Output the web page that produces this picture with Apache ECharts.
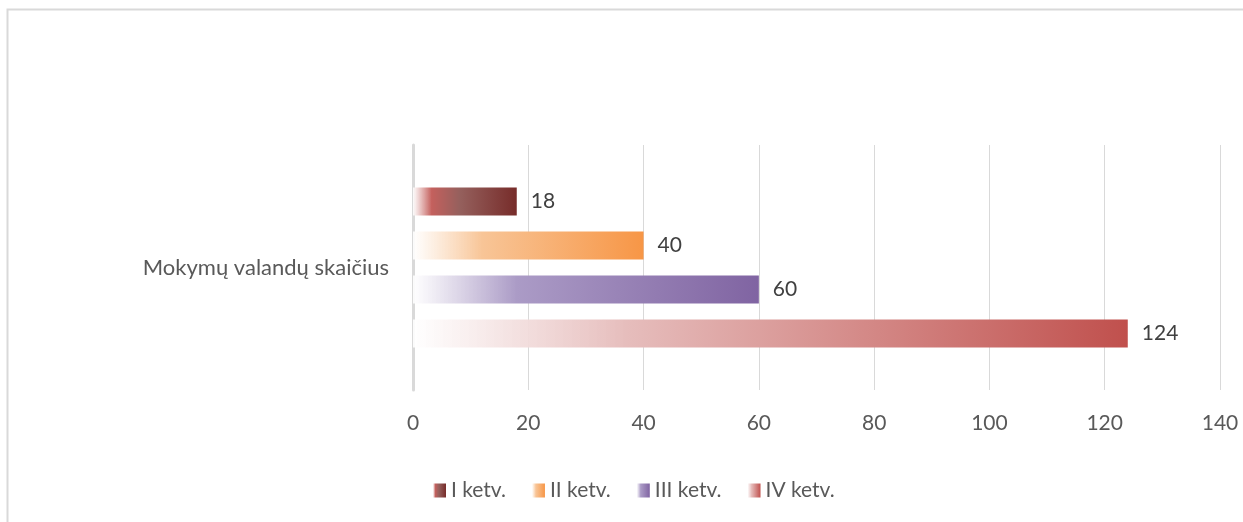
<!DOCTYPE html>
<html>
<head>
<meta charset="utf-8">
<script src="https://cdn.jsdelivr.net/npm/echarts@6/dist/echarts.min.js"></script>
<style>
  html, body { margin: 0; padding: 0; background: #fff; }
  #chart { width: 1243px; height: 522px; }
</style>
</head>
<body>
<div id="chart"></div>
<script>
// duomenys
var categories = ['Mokymų valandų skaičius'];
var seriesNames = ['I ketv.', 'II ketv.', 'III ketv.', 'IV ketv.'];
var seriesValues = [[18], [40], [60], [124]];
var xTicks = [0, 20, 40, 60, 80, 100, 120, 140];

// gradientai kiekvienai serijai (iš kairės balta -> spalva)
var gradStops = [
    [[0, 'rgba(255,255,255,0.9)'], [0.18, '#c4605d'], [0.45, '#95605d'], [1, '#772c2a']],
    [[0, 'rgba(255,255,255,0.9)'], [0.3, '#f8c597'], [1, '#f79646']],
    [[0, 'rgba(255,255,255,0.9)'], [0.3, '#ab9bc6'], [1, '#8064a2']],
    [[0, 'rgba(255,255,255,0.9)'], [0.3, '#e6bdbc'], [1, '#c0504d']]
];

function grad(stops) {
    return new echarts.graphic.LinearGradient(0, 0, 1, 0, stops.map(function (s) {
        return { offset: s[0], color: s[1] };
    }));
}

var FONT = 'Lato';
var myChart = echarts.init(document.getElementById('chart'));

var series = seriesNames.map(function (name, i) {
    return {
        name: name,
        type: 'bar',
        data: seriesValues[i],
        barWidth: 28,
        barGap: '57%',
        itemStyle: { color: grad(gradStops[i]) },
        label: {
            show: true,
            position: 'right',
            distance: 14,
            color: '#404040',
            fontSize: 21,
            fontFamily: FONT
        }
    };
});

var option = {
    animation: false,
    textStyle: { fontFamily: FONT },
    graphic: [{
        type: 'rect',
        shape: { x: 7.5, y: 9.5, width: 1300, height: 600 },
        style: { fill: 'none', stroke: '#d9d9d9', lineWidth: 2 },
        silent: true
    }],
    legend: {
        bottom: 16,
        left: 428,
        icon: 'rect',
        itemWidth: 13,
        itemHeight: 14,
        itemGap: 26,
        textStyle: { color: '#595959', fontSize: 21, fontFamily: FONT, padding: [0, 0, 0, 0] },
        data: seriesNames
    },
    grid: {
        left: 413,
        right: 23,
        top: 145,
        bottom: 132,
        containLabel: false
    },
    xAxis: {
        type: 'value',
        min: xTicks[0],
        max: xTicks[xTicks.length - 1],
        interval: 20,
        axisLine: { show: false },
        axisTick: { show: false },
        splitLine: { show: true, lineStyle: { color: '#d9d9d9', width: 1 } },
        axisLabel: { color: '#595959', fontSize: 21, margin: 23 }
    },
    yAxis: {
        type: 'category',
        inverse: true,
        data: categories,
        axisLine: { show: true, lineStyle: { color: '#d9d9d9', width: 3 } },
        axisTick: { show: false },
        axisLabel: { color: '#595959', fontSize: 22, margin: 24 }
    },
    series: series
};

myChart.setOption(option);
</script>
</body>
</html>
